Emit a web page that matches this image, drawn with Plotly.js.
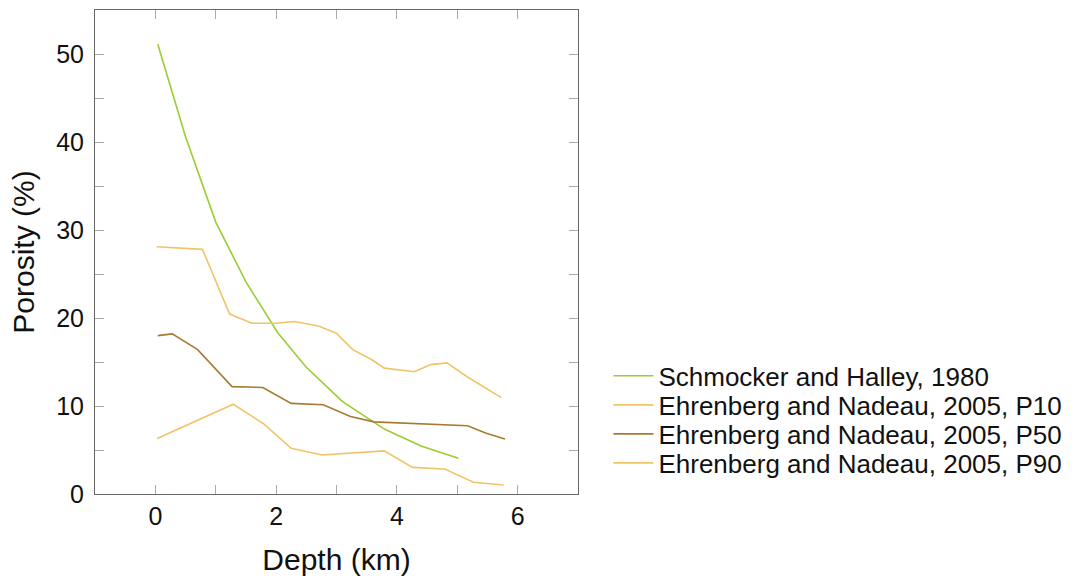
<!DOCTYPE html>
<html>
<head>
<meta charset="utf-8">
<script src="https://cdn.plot.ly/plotly-3.0.1.min.js"></script>
<style>
  html, body { margin: 0; padding: 0; background: #fff; }
  #chart { width: 1082px; height: 579px; }
</style>
</head>
<body>
<div id="chart"></div>
<script>
// Porosity versus burial depth for carbonate reservoirs
const schmockerDepth = [0.04, 0.5, 1.0, 1.5, 2.03, 2.5, 3.1, 3.8, 4.4, 5.02];
const schmockerPoro  = [51.1, 40.6, 30.9, 24.1, 18.3, 14.4, 10.5, 7.35, 5.45, 4.05];

const p10Depth = [0.02, 0.78, 1.23, 1.6, 2.0, 2.3, 2.7, 2.99, 3.27, 3.6, 3.79, 4.29, 4.56, 4.83, 5.17, 5.44, 5.73];
const p10Poro  = [28.1, 27.8, 20.45, 19.4, 19.4, 19.6, 19.1, 18.3, 16.4, 15.2, 14.3, 13.9, 14.7, 14.9, 13.3, 12.2, 10.95];

const p50Depth = [0.04, 0.28, 0.7, 1.27, 1.78, 2.25, 2.78, 3.23, 3.62, 5.17, 5.48, 5.79];
const p50Poro  = [18.0, 18.2, 16.4, 12.2, 12.1, 10.3, 10.15, 8.8, 8.2, 7.76, 6.9, 6.25];

const p90Depth = [0.03, 1.29, 1.8, 2.25, 2.76, 3.79, 4.26, 4.79, 5.27, 5.77];
const p90Poro  = [6.3, 10.2, 7.95, 5.2, 4.43, 4.9, 3.03, 2.84, 1.33, 1.02];

const seriesNames = [
  'Schmocker and Halley, 1980',
  'Ehrenberg and Nadeau, 2005, P10',
  'Ehrenberg and Nadeau, 2005, P50',
  'Ehrenberg and Nadeau, 2005, P90'
];
const seriesColors = ['#9acd32', '#f0c467', '#a87a30', '#f0c467'];

const xs = [schmockerDepth, p10Depth, p50Depth, p90Depth];
const ys = [schmockerPoro, p10Poro, p50Poro, p90Poro];

// one legend box per entry so the rows can sit close together
const legendIds = ['legend', 'legend2', 'legend3', 'legend4'];
const legendRowY = [0.244, 0.184, 0.124, 0.064];

const traces = xs.map((x, i) => ({
  x: x,
  y: ys[i],
  type: 'scatter',
  mode: 'lines',
  name: seriesNames[i],
  legend: legendIds[i],
  line: { color: seriesColors[i], width: 1.6 }
}));

const family = '"Liberation Sans", Arial, sans-serif';
const ink = '#111';

const axisCommon = {
  showgrid: false,
  zeroline: false,
  showline: true,
  linecolor: '#666',
  linewidth: 1,
  mirror: 'allticks',
  ticks: 'inside',
  ticklen: 9,
  tickcolor: '#aaa',
  tickwidth: 1,
  tickfont: { family: family, size: 25, color: ink }
};

const layout = {
  width: 1082,
  height: 579,
  margin: { l: 95, r: 504, t: 10, b: 85 },
  paper_bgcolor: '#fff',
  plot_bgcolor: '#fff',
  font: { family: family, color: ink },
  showlegend: true,
  xaxis: Object.assign({}, axisCommon, {
    range: [-1, 7],
    tickmode: 'linear', tick0: 0, dtick: 2,
    minor: { dtick: 1, ticks: 'inside', ticklen: 9, tickcolor: '#aaa' },
    title: { text: 'Depth (km)', font: { family: family, size: 30, color: ink }, standoff: 19 }
  }),
  yaxis: Object.assign({}, axisCommon, {
    range: [0, 55],
    tickmode: 'linear', tick0: 0, dtick: 10,
    ticklabelstandoff: 5,
    minor: { dtick: 5, ticks: 'inside', ticklen: 9, tickcolor: '#aaa' },
    title: { text: 'Porosity (%)', font: { family: family, size: 30, color: ink }, standoff: 12 }
  })
};

legendIds.forEach((id, i) => {
  layout[id] = {
    x: 1.063, xanchor: 'left',
    y: legendRowY[i], yanchor: 'middle',
    font: { family: family, size: 26, color: ink },
    bgcolor: 'rgba(0,0,0,0)',
    itemwidth: 40
  };
});

Plotly.newPlot('chart', traces, layout, { displayModeBar: false, staticPlot: true });
</script>
</body>
</html>
